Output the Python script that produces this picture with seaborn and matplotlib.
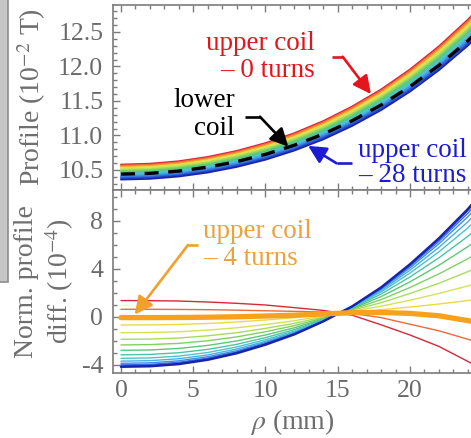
import matplotlib
matplotlib.use("Agg")
import matplotlib.pyplot as plt
from matplotlib.patches import Rectangle
from matplotlib.ticker import MultipleLocator, FormatStrFormatter
import pandas as pd
import seaborn as sns

# radial position (mm)
rho_mm = [0, 2, 4, 6, 8, 10, 12, 14, 16, 18, 20, 22, 24, 26]
# turns removed from the upper coil
turns = [0, 2, 4, 6, 8, 10, 12, 14, 16, 18, 20, 22, 24, 26, 28]

# field profile of the upper coil (10^-2 T), one list per turn count
profile_upper = {
    0: [10.580, 10.592, 10.628, 10.690, 10.777, 10.891, 11.035, 11.210, 11.421, 11.668, 11.958, 12.293, 12.678, 13.118],
    2: [10.564, 10.576, 10.612, 10.674, 10.760, 10.874, 11.017, 11.191, 11.401, 11.646, 11.935, 12.268, 12.651, 13.089],
    4: [10.549, 10.561, 10.596, 10.657, 10.744, 10.856, 10.999, 11.172, 11.381, 11.625, 11.912, 12.243, 12.624, 13.060],
    6: [10.533, 10.545, 10.580, 10.641, 10.727, 10.839, 10.981, 11.153, 11.360, 11.604, 11.889, 12.218, 12.597, 13.030],
    8: [10.517, 10.529, 10.564, 10.625, 10.710, 10.822, 10.963, 11.134, 11.340, 11.582, 11.866, 12.194, 12.570, 13.001],
    10: [10.502, 10.513, 10.548, 10.609, 10.693, 10.804, 10.944, 11.115, 11.320, 11.560, 11.843, 12.169, 12.543, 12.972],
    12: [10.486, 10.497, 10.532, 10.592, 10.677, 10.787, 10.926, 11.096, 11.300, 11.539, 11.820, 12.144, 12.517, 12.942],
    14: [10.470, 10.482, 10.516, 10.576, 10.660, 10.770, 10.908, 11.077, 11.280, 11.517, 11.797, 12.119, 12.490, 12.913],
    16: [10.454, 10.466, 10.500, 10.560, 10.643, 10.752, 10.890, 11.058, 11.260, 11.496, 11.774, 12.094, 12.463, 12.884],
    18: [10.439, 10.450, 10.484, 10.543, 10.626, 10.735, 10.872, 11.039, 11.239, 11.474, 11.751, 12.069, 12.436, 12.855],
    20: [10.423, 10.434, 10.468, 10.527, 10.610, 10.717, 10.854, 11.019, 11.219, 11.453, 11.727, 12.045, 12.409, 12.825],
    22: [10.407, 10.419, 10.452, 10.511, 10.593, 10.700, 10.836, 11.000, 11.199, 11.431, 11.704, 12.020, 12.382, 12.796],
    24: [10.392, 10.403, 10.437, 10.495, 10.576, 10.683, 10.817, 10.981, 11.179, 11.410, 11.681, 11.995, 12.355, 12.767],
    26: [10.376, 10.387, 10.421, 10.478, 10.559, 10.665, 10.799, 10.962, 11.159, 11.388, 11.658, 11.970, 12.328, 12.738],
    28: [10.360, 10.371, 10.405, 10.462, 10.543, 10.648, 10.781, 10.943, 11.138, 11.367, 11.635, 11.945, 12.301, 12.708],
}

# field profile of the lower coil (10^-2 T)
profile_lower = [10.440, 10.451, 10.484, 10.541, 10.621, 10.726, 10.859, 11.020, 11.214, 11.442, 11.709, 12.017, 12.372, 12.777]

# normalised profile difference upper - lower (10^-4)
norm_diff = {
    0: [1.37, 1.36, 1.33, 1.25, 1.14, 1.00, 0.78, 0.55, 0.15, -0.65, -1.50, -2.45, -3.70, -5.00],
    2: [0.64, 0.64, 0.63, 0.61, 0.57, 0.52, 0.47, 0.41, 0.30, -0.05, -0.60, -1.15, -1.85, -2.70],
    4: [-0.05, -0.05, -0.04, -0.02, 0.02, 0.08, 0.15, 0.25, 0.36, 0.38, 0.30, 0.10, -0.30, -0.80],
    6: [-0.67, -0.66, -0.62, -0.54, -0.42, -0.25, -0.06, 0.19, 0.41, 0.60, 0.83, 1.08, 1.37, 1.70],
    8: [-1.31, -1.29, -1.23, -1.09, -0.90, -0.63, -0.31, 0.08, 0.49, 0.90, 1.40, 1.96, 2.59, 3.33],
    10: [-1.86, -1.84, -1.75, -1.57, -1.31, -0.95, -0.53, 0.00, 0.56, 1.19, 1.96, 2.81, 3.78, 4.90],
    12: [-2.33, -2.30, -2.20, -1.98, -1.66, -1.23, -0.72, -0.08, 0.63, 1.45, 2.46, 3.59, 4.85, 6.33],
    14: [-2.78, -2.75, -2.62, -2.37, -2.00, -1.50, -0.90, -0.15, 0.69, 1.70, 2.93, 4.31, 5.86, 7.67],
    16: [-3.15, -3.12, -2.98, -2.70, -2.28, -1.72, -1.05, -0.21, 0.75, 1.91, 3.34, 4.93, 6.72, 8.81],
    18: [-3.45, -3.41, -3.26, -2.96, -2.50, -1.89, -1.17, -0.26, 0.79, 2.08, 3.66, 5.43, 7.42, 9.74],
    20: [-3.68, -3.64, -3.48, -3.16, -2.67, -2.03, -1.26, -0.29, 0.82, 2.20, 3.90, 5.80, 7.93, 10.41],
    22: [-3.86, -3.82, -3.65, -3.31, -2.81, -2.13, -1.33, -0.32, 0.85, 2.31, 4.10, 6.10, 8.35, 10.97],
    24: [-3.99, -3.95, -3.77, -3.43, -2.91, -2.21, -1.39, -0.34, 0.87, 2.38, 4.24, 6.31, 8.64, 11.36],
    26: [-4.08, -4.04, -3.86, -3.50, -2.97, -2.26, -1.42, -0.36, 0.88, 2.43, 4.34, 6.46, 8.86, 11.65],
    28: [-4.15, -4.11, -3.93, -3.57, -3.03, -2.31, -1.45, -0.37, 0.89, 2.47, 4.40, 6.56, 8.99, 11.83],
}

top_ticks = [10.5, 11.0, 11.5, 12.0, 12.5]
bottom_ticks = [-4, 0, 4, 8]
x_ticks = [0, 5, 10, 15, 20]

# rainbow from 0 turns (red) to 28 turns (dark blue)
line_colors = ["#d8283c", "#ec6a3c", "#f5a01e", "#ecd848", "#d2e455", "#a8dc5a",
               "#7ed262", "#5cc878", "#4ec4a4", "#4cc4cc", "#48b0e6", "#3c90e6",
               "#306ee0", "#2448cc", "#1a24a8"]
palette = dict(zip(turns, line_colors))

sns.set_style("ticks")
plt.rcParams["font.family"] = ["Liberation Serif", "DejaVu Serif"]
plt.rcParams["mathtext.fontset"] = "stix"
plt.rcParams["axes.unicode_minus"] = False

W, H = 471, 438
fig = plt.figure(figsize=(W / 100, H / 100), dpi=100)
fig.patch.set_facecolor("white")

# neighbouring grey panel on the left edge
fig.add_artist(Rectangle((-0.01, 1 - 282 / H), 0.01 + 8 / W, 282 / H + 0.02,
                         transform=fig.transFigure, facecolor="#c6c6c6",
                         edgecolor="#8c8c8c", lw=1.2))

left, right = 113 / W, 482.25 / W
ax_top = fig.add_axes([left, (H - 190) / H, right - left, 185 / H])
ax_bot = fig.add_axes([left, (H - 373) / H, right - left, 183 / H])

# ---- top panel: profiles ----
top_df = pd.DataFrame([(r, t, v) for t in turns for r, v in zip(rho_mm, profile_upper[t])],
                      columns=["rho", "turns", "profile"])
sns.lineplot(data=top_df, x="rho", y="profile", hue="turns", palette=palette,
             lw=1.25, legend=False, errorbar=None, ax=ax_top)
sns.lineplot(x=rho_mm, y=profile_lower, color="black", lw=2.4, errorbar=None, ax=ax_top)
ax_top.lines[-1].set_dashes([4.2, 2.9])

# ---- bottom panel: normalised differences ----
for t in turns:
    if t == 4:
        continue
    sns.lineplot(x=rho_mm, y=norm_diff[t], color=palette[t],
                 lw=1.7 if t == 28 else 1.0, errorbar=None, ax=ax_bot)
sns.lineplot(x=rho_mm, y=norm_diff[4], color="#f7a11c", lw=3.8, errorbar=None, ax=ax_bot)

spine_col = "#7c7c7c"
tick_col = "#6a6a6a"
for ax in (ax_top, ax_bot):
    ax.set_xlim(-0.55, 25.0)
    ax.set_xticks(x_ticks)
    ax.xaxis.set_minor_locator(MultipleLocator(1))
    ax.set_xlabel("")
    ax.set_ylabel("")
    for s in ax.spines.values():
        s.set_color(spine_col)
        s.set_linewidth(1.2)
    ax.tick_params(which="both", direction="in", top=True, right=False,
                   color=spine_col, width=1.0, labelcolor=tick_col, labelsize=18.5)
    ax.tick_params(which="major", length=5)
    ax.tick_params(which="minor", length=2.8)
    ax.tick_params(axis="y", pad=7)
    ax.tick_params(axis="x", pad=5)

ax_top.set_ylim(10.21, 12.891)
ax_top.set_yticks(top_ticks)
ax_top.yaxis.set_minor_locator(MultipleLocator(0.1))
ax_top.yaxis.set_major_formatter(FormatStrFormatter("%.1f"))
ax_top.tick_params(axis="x", labelbottom=False)

ax_bot.set_ylim(-4.667, 10.583)
ax_bot.set_yticks(bottom_ticks)
ax_bot.yaxis.set_minor_locator(MultipleLocator(1))

# ---- annotations ----
def kinked_arrow(ax, start, kink, tip, color):
    ax.plot([start[0], kink[0]], [start[1], kink[1]], color=color, lw=1.9,
            solid_capstyle="butt")
    ax.annotate("", xy=tip, xytext=kink,
                arrowprops=dict(arrowstyle="-|>,head_length=0.6,head_width=0.3",
                                color=color, lw=1.9, shrinkA=0, shrinkB=0,
                                mutation_scale=18))

fs = 19.5
red, blue, orange = "#e3161e", "#1c1cd2", "#eba23c"
ax_top.text(13.43, 12.239, "upper coil", color=red, fontsize=fs, ha="right", va="baseline")
ax_top.text(13.43, 11.852, "– 0 turns", color=red, fontsize=fs, ha="right", va="baseline")
kinked_arrow(ax_top, (14.57, 12.142), (15.34, 12.142), (17.3, 11.60), red)

ax_top.text(7.89, 11.417, "lower", color="black", fontsize=fs, ha="right", va="baseline")
ax_top.text(7.89, 11.007, "coil", color="black", fontsize=fs, ha="right", va="baseline")
kinked_arrow(ax_top, (8.58, 11.272), (9.62, 11.272), (11.58, 10.838), "black")

ax_top.text(16.40, 10.693, "upper coil", color=blue, fontsize=fs, ha="left", va="baseline")
ax_top.text(16.40, 10.330, "– 28 turns", color=blue, fontsize=fs, ha="left", va="baseline")
kinked_arrow(ax_top, (15.97, 10.597), (14.92, 10.597), (12.95, 10.85), blue)

ax_bot.text(5.67, 6.56, "upper coil", color=orange, fontsize=fs, ha="left", va="baseline")
ax_bot.text(5.67, 4.33, "– 4 turns", color=orange, fontsize=fs, ha="left", va="baseline")
kinked_arrow(ax_bot, (5.33, 6.0), (4.64, 6.0), (0.95, 0.2), "#f2a02a")

# ---- axis titles ----
lab_col = "#6e6e6e"
fig.text(32 / W, 1 - 97.5 / H, "Profile (10$^{-2}$ T)", rotation=90, ha="center",
         va="center", fontsize=20, color=lab_col)
fig.text(45 / W, 1 - 281.5 / H, "Norm. profile\ndiff. (10$^{-4}$)", rotation=90,
         ha="center", va="center", multialignment="center", fontsize=20,
         color=lab_col, linespacing=1.2)
fig.text(292.5 / W, 1 - 422 / H, r"$\rho$ (mm)", ha="center", va="center",
         fontsize=20, color=lab_col)

fig.savefig("out.png", dpi=100)
